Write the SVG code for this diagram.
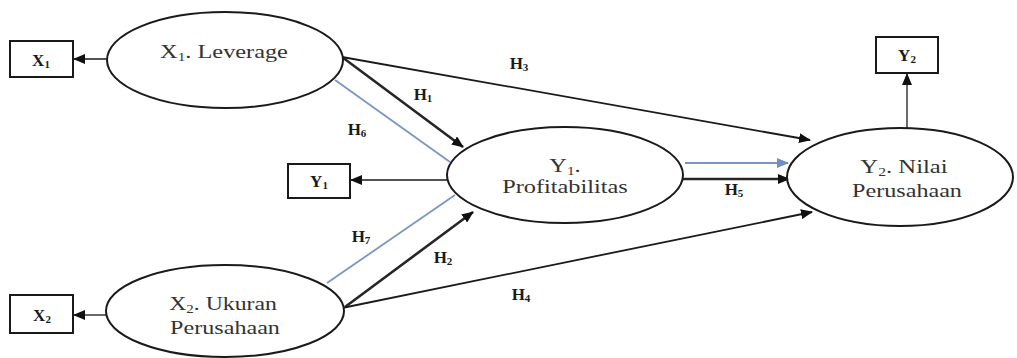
<svg xmlns="http://www.w3.org/2000/svg" width="1017" height="358" viewBox="0 0 1017 358">
<style>
.bg{fill:#ffffff}
.node ellipse{fill:#ffffff;stroke:#1a1a1a;stroke-width:2}
.box rect{fill:#ffffff;stroke:#1a1a1a;stroke-width:2}
.t{font-family:"Liberation Serif","Times New Roman",serif;font-size:19px;fill:#333333;text-anchor:middle}
.bt{font-family:"Liberation Serif","Times New Roman",serif;font-size:17px;font-weight:bold;fill:#1a1a1a;text-anchor:middle}
.h{font-family:"Liberation Serif","Times New Roman",serif;font-size:17px;font-weight:bold;fill:#1a1a1a;text-anchor:middle}
.sub{font-size:11px}
.thin{stroke:#1a1a1a;stroke-width:1.3;fill:none}
.mid{stroke:#1a1a1a;stroke-width:1.8;fill:none}
.thick{stroke:#262626;stroke-width:2.6;fill:none}
.blue{stroke:#7b96c4;stroke-width:1.8;fill:none}
</style>
<defs>
<marker id="ah" markerUnits="userSpaceOnUse" markerWidth="12" markerHeight="10" refX="11" refY="5" orient="auto">
<path d="M0,0 L12,5 L0,10 Z" fill="#111111"/>
</marker>
<marker id="ahb" markerUnits="userSpaceOnUse" markerWidth="12" markerHeight="10" refX="11" refY="5" orient="auto">
<path d="M0,0 L12,5 L0,10 Z" fill="#6f8fc4"/>
</marker>
</defs>
<rect class="bg" x="0" y="0" width="1017" height="358"/>

<g id="connectors">
<line class="thin" x1="107" y1="59" x2="74" y2="59" marker-end="url(#ah)"/>
<line class="thin" x1="106" y1="315" x2="74" y2="315" marker-end="url(#ah)"/>
<line class="thin" x1="447" y1="180" x2="351" y2="180" marker-end="url(#ah)"/>
<line class="thin" x1="907" y1="129" x2="907" y2="74" marker-end="url(#ah)"/>
<line class="blue" x1="335" y1="80" x2="450" y2="162"/>
<line class="blue" x1="327" y1="283" x2="455" y2="195"/>
<line class="thick" x1="342" y1="57" x2="463" y2="147" marker-end="url(#ah)"/>
<line class="thick" x1="345" y1="307" x2="473" y2="212" marker-end="url(#ah)"/>
<line class="mid" x1="342" y1="57" x2="810" y2="140" marker-end="url(#ah)"/>
<line class="mid" x1="342" y1="308" x2="812" y2="212" marker-end="url(#ah)"/>
<line class="thick" x1="683" y1="179" x2="789" y2="179" marker-end="url(#ah)"/>
<line class="blue" x1="685" y1="163" x2="788" y2="163" stroke-width="1.2" marker-end="url(#ahb)"/>
<text class="h" x="423" y="100">H<tspan class="sub" dy="2">1</tspan></text>
<text class="h" x="443" y="263">H<tspan class="sub" dy="2">2</tspan></text>
<text class="h" x="519" y="69">H<tspan class="sub" dy="2">3</tspan></text>
<text class="h" x="521" y="300">H<tspan class="sub" dy="2">4</tspan></text>
<text class="h" x="734" y="195">H<tspan class="sub" dy="2">5</tspan></text>
<text class="h" x="357" y="135">H<tspan class="sub" dy="2">6</tspan></text>
<text class="h" x="361" y="242">H<tspan class="sub" dy="2">7</tspan></text>
</g>

<g id="node-x1" class="node">
<ellipse cx="225" cy="60" rx="118" ry="48"/>
<text class="t" transform="translate(224,58) scale(1.28,1)" x="0" y="0">X<tspan font-size="12" dy="3">1</tspan><tspan dy="-3">. Leverage</tspan></text>
</g>
<g id="node-x2" class="node">
<ellipse cx="225" cy="311" rx="119" ry="46"/>
<text class="t" transform="translate(223,310) scale(1.25,1)" x="0" y="0">X<tspan font-size="12" dy="3">2</tspan><tspan dy="-3">. Ukuran</tspan></text>
<text class="t" transform="translate(225,334) scale(1.27,1)" x="0" y="0">Perusahaan</text>
</g>
<g id="node-y1" class="node">
<ellipse cx="565" cy="175" rx="118" ry="48"/>
<text class="t" transform="translate(565,172) scale(1.28,1)" x="0" y="0">Y<tspan font-size="12" dy="3">1</tspan><tspan dy="-3">.</tspan></text>
<text class="t" transform="translate(565,193) scale(1.28,1)" x="0" y="0">Profitabilitas</text>
</g>
<g id="node-y2" class="node">
<ellipse cx="900" cy="177" rx="113" ry="49"/>
<text class="t" transform="translate(904,173) scale(1.3,1)" x="0" y="0">Y<tspan font-size="12" dy="3">2</tspan><tspan dy="-3">. Nilai</tspan></text>
<text class="t" transform="translate(907,197) scale(1.27,1)" x="0" y="0">Perusahaan</text>
</g>

<g id="box-x1" class="box">
<rect x="10" y="41" width="63" height="36"/>
<text class="bt" x="41" y="66">X<tspan class="sub" dy="2">1</tspan></text>
</g>
<g id="box-x2" class="box">
<rect x="10" y="295" width="63" height="38"/>
<text class="bt" x="42" y="321">X<tspan class="sub" dy="2">2</tspan></text>
</g>
<g id="box-y1" class="box">
<rect x="288" y="164" width="62" height="34"/>
<text class="bt" x="319" y="187">Y<tspan class="sub" dy="2">1</tspan></text>
</g>
<g id="box-y2" class="box">
<rect x="876" y="37" width="62" height="36" stroke-width="3"/>
<text class="bt" x="907" y="61">Y<tspan class="sub" dy="2">2</tspan></text>
</g>
</svg>
